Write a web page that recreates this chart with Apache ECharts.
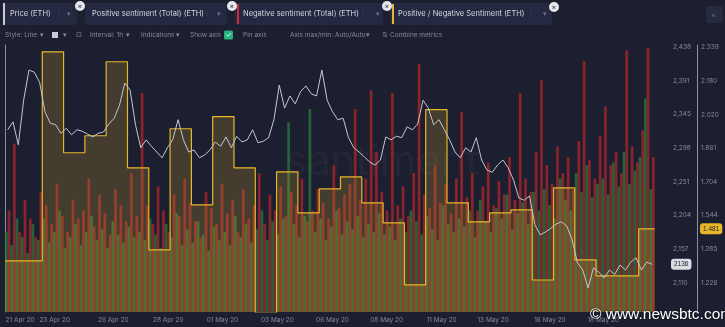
<!DOCTYPE html>
<html><head><meta charset="utf-8">
<script src="https://cdn.jsdelivr.net/npm/echarts@6/dist/echarts.min.js"></script>
<style>html,body{margin:0;padding:0;background:#1c1f30;}#c{width:725px;height:327px;}</style>
</head><body><div id="c"></div>
<script>
// ---- data (hours since chart origin on the x axis) ----
const hoursPerBar = 6;
const firstDayHour = 42;     // first daily boundary of the ratio series
const lastHour = 732;        // end of data
const xMaxHour = 747;

const xTickHours = [17, 56, 122, 184, 245, 307, 369, 430, 492, 550, 614, 674];
const xTickLabels = ['21 Apr 20','23 Apr 20','26 Apr 20','28 Apr 20','01 May 20','03 May 20','06 May 20','08 May 20','11 May 20','13 May 20','16 May 20','18 May 20'];

const priceTicks = [2110, 2157, 2204, 2251, 2298, 2345, 2391, 2438];
const ratioTicks = [1.226, 1.385, 1.544, 1.704, 1.861, 2.020, 2.180, 2.339];

const price = [2323,2334,2302,2364,2406,2403,2389,2348,2332,2330,2318,2325,2316,2323,2321,2317,2313,2318,2320,2331,
2339,2357,2388,2378,2330,2298,2309,2300,2292,2284,2298,2309,2337,2309,2292,2295,2284,2288,2295,2306,
2300,2313,2298,2314,2306,2309,2323,2305,2307,2312,2337,2385,2353,2370,2359,2376,2384,2373,2370,2406,
2364,2348,2337,2339,2312,2298,2292,2285,2278,2274,2281,2313,2309,2314,2312,2327,2323,2331,2364,2353,
2330,2337,2323,2309,2292,2284,2298,2292,2312,2281,2267,2264,2274,2281,2270,2253,2228,2225,2231,2191,
2177,2181,2186,2192,2195,2189,2170,2138,2128,2103,2131,2125,2117,2128,2122,2135,2128,2139,2145,2128,
2139,2136];

const negative = [38,63,30,42,35,28,45, 40,33,48,36,30, 42,35,38,50,32,44,37,29,46,40,34,52,36, 82,
40,33,47,38,30,44,36,50,41,34,28,45,39,33,48, 37,42,30,46,35,40,52,33,44,38,47,36, 45, 40,50,34, 38,
46,41,35,55,39,44,48, 76, 42,50, 83, 60, 45,38, 82, 40,47,36,52, 93, 44,39,55,41,48,37,50, 75,
43,52,38,47,56,40,49,44,58,42, 82, 50,45,60, 87, 55,48,62,52,58,46,64, 94, 57,50,66, 77, 55,60,52, 98,
62,56,68, 99, 58];

const positive = [30,25,35,28,22,33,27, 35,26,30,38,24, 28,33,25,30,36,27,31,24,34,29,26,32,28, 30,
27,35,29,24,33,28,37,25,31,26,34,29,23,32,27, 30,25,36,28,33,26,31,38,27,34,29,35, 71, 33,28,36, 76,
30,35,27,32,38,29,34, 31, 36,28, 33, 30, 37,29, 32, 27,35,30,38, 34, 29,36,31,27,40,33,30, 35,
32,38,28,42,34,30,39,35,44,31, 37, 41,33,45, 38, 46,40,35,50,42,38,52, 45, 55,43,48, 50, 44,56,47, 60,
48,53,58, 80, 46];

const ratio = [1.330,2.316,1.840,1.920,2.269,1.769,1.382,1.953,1.594,2.010,1.769,1.084,1.750,1.556,1.670,
1.726,1.604,1.509,1.217,2.043,1.604,1.514,1.556,1.571,1.240,1.674,1.335,1.259,1.259,1.481];

const lastPrice = 2136;
const lastRatio = 1.481;

// ---- build series data ----
const atBar = (arr, f) => arr.map((v, i) => [(i + f) * hoursPerBar, v]);
const ratioData = [[0, ratio[0]]];
for (let k = 1; k < ratio.length; k++) ratioData.push([firstDayHour + 24 * (k - 1), ratio[k]]);
ratioData.push([lastHour, ratio[ratio.length - 1]]);

const FONT = 'Inter, Roboto, sans-serif';
const GREY = '#858aa0';

const chart = echarts.init(document.getElementById('c'));

function txt(x, y, s, size, fill, extra) {
  return Object.assign({ type: 'text', x: x, y: y, silent: true,
    style: { text: s, fill: fill || GREY, font: (size || 6.5) + 'px ' + FONT, verticalAlign: 'middle' } }, extra || {});
}
function rect(x, y, w, h, fill, r) {
  return { type: 'rect', silent: true, shape: { x: x, y: y, width: w, height: h, r: r || 0 }, style: { fill: fill } };
}
function badge(x, y) {
  return [{ type: 'circle', silent: true, shape: { cx: x, cy: y, r: 5 }, style: { fill: '#e6e7ec' } },
          txt(x - 2.4, y, '×', 7, '#1c1f30')];
}

const graphic = [
  rect(3, 3, 74, 22, '#242941', 2), rect(3, 3, 2, 22, '#c9ccd6'),
  txt(10, 14, 'Price (ETH)', 7.5, '#d4d6e0'), txt(58, 14, '⁝', 7, '#4e536a'), txt(67, 14, '▾', 7, '#6b7088'),
  rect(85, 3, 142, 22, '#242941', 2),
  txt(92, 14, 'Positive sentiment (Total) (ETH)', 7.5, '#d4d6e0'), txt(207, 14, '⁝', 7, '#4e536a'), txt(217, 14, '▾', 7, '#6b7088'),
  rect(235, 3, 148, 22, '#242941', 2), rect(237, 4, 2, 20, '#d0283a'),
  txt(243, 14, 'Negative sentiment (Total) (ETH)', 7.5, '#d4d6e0'), txt(362, 14, '⁝', 7, '#4e536a'), txt(376, 14, '▾', 7, '#6b7088'),
  rect(390, 3, 162, 22, '#242941', 2), rect(392, 4, 2, 20, '#e7b62a'),
  txt(398, 14, 'Positive / Negative Sentiment (ETH)', 7.5, '#d4d6e0'), txt(530, 14, '⁝', 7, '#4e536a'), txt(543, 14, '▾', 7, '#6b7088'),
  ...badge(80, 6), ...badge(232, 6), ...badge(387, 6), ...badge(554, 7),
  rect(706, 6, 17, 17, '#262b40', 2), txt(711, 14.5, '×', 7, '#6b7088'),
  txt(5, 35, 'Style: Line', 6.5), txt(40, 35, '▾', 6.5),
  rect(52, 32, 6, 6, '#c9ccd6'), txt(63, 35, '▾', 6.5),
  txt(76, 35, '⊡', 7), txt(90, 35, 'Interval: 1h', 6.5), txt(126, 35, '▾', 6.5),
  txt(141, 35, 'Indications', 6.5), txt(176, 35, '▾', 6.5),
  txt(190, 35, 'Show axis', 6.5),
  rect(224, 30.5, 9, 9, '#27b37a', 1.5), txt(225.5, 35, '✓', 7, '#ffffff'),
  txt(243, 35, 'Pin axis', 6.5),
  txt(290, 35, 'Axis max/min: Auto/Auto', 6.5), txt(366, 35, '▾', 6.5),
  txt(382, 35, '⇅', 6.5), txt(390, 35, 'Combine metrics', 6.5),
  txt(285, 162, 'santiment', 42, 'rgba(255,255,255,0.035)'),
  txt(590, 315, '© www.newsbtc.com', 15.5, '#ffffff', { z: 100, style: { text: '© www.newsbtc.com', fill: '#ffffff', font: '15.5px "Liberation Sans", Arial, sans-serif', verticalAlign: 'middle', textShadowColor: 'rgba(0,0,0,0.8)', textShadowBlur: 2 } })
];

chart.setOption({
  animation: false,
  backgroundColor: '#1c1f30',
  grid: { left: 5, right: 57, top: 45, bottom: 15 },
  graphic: graphic,
  xAxis: {
    type: 'value', min: 0, max: xMaxHour,
    axisLine: { show: false }, axisTick: { show: false }, splitLine: { show: false },
    axisLabel: {
      customValues: xTickHours, color: GREY, fontSize: 6.5, fontFamily: FONT, margin: 5,
      formatter: (v) => { const i = xTickHours.indexOf(v); return i >= 0 ? xTickLabels[i] : ''; }
    }
  },
  yAxis: [
    { type: 'value', position: 'right', min: 2069.7, max: 2440.8,
      axisLine: { show: true, lineStyle: { color: '#8c90a2', width: 1 } }, axisTick: { show: false },
      splitLine: { show: false },
      axisLabel: { customValues: priceTicks, color: GREY, fontSize: 6.5, fontFamily: FONT, margin: 5 },
      axisPointer: { show: true, value: lastPrice, status: 'show', triggerTooltip: false,
        lineStyle: { opacity: 0 },
        label: { show: true, backgroundColor: '#dcdde3', color: '#1c1f30', fontSize: 6.5, padding: [2, 3], margin: 3,
                 formatter: (p) => String(Math.round(p.value)) } } },
    { type: 'value', position: 'right', offset: 29, min: 1.089, max: 2.348,
      axisLine: { show: true, lineStyle: { color: '#8c90a2', width: 1 } }, axisTick: { show: false },
      splitLine: { show: false },
      axisLabel: { customValues: ratioTicks, color: GREY, fontSize: 6.5, fontFamily: FONT, margin: 4,
                   formatter: (v) => v.toFixed(3) },
      axisPointer: { show: true, value: lastRatio, status: 'show', triggerTooltip: false,
        lineStyle: { opacity: 0 },
        label: { show: true, backgroundColor: '#e9b62a', color: '#1c1f30', fontSize: 6.5, padding: [2, 3], margin: 3,
                 formatter: (p) => Number(p.value).toFixed(3) } } },
    { type: 'value', min: 0, max: 100, show: false }
  ],
  series: [
    { name: 'Negative sentiment (Total) (ETH)', type: 'bar', yAxisIndex: 2, barWidth: 2.7, barGap: '-100%',
      data: atBar(negative, 0.75), itemStyle: { color: 'rgba(165,36,44,0.8)' }, z: 1, silent: true },
    { name: 'Positive sentiment (Total) (ETH)', type: 'bar', yAxisIndex: 2, barWidth: 2.7, barGap: '-100%',
      data: atBar(positive, 0.25), itemStyle: { color: 'rgba(42,118,58,0.78)' }, z: 1, silent: true },
    { name: 'Positive / Negative Sentiment (ETH)', type: 'line', yAxisIndex: 1, step: 'end', symbol: 'none',
      data: ratioData, lineStyle: { color: '#e8b628', width: 1.2 },
      areaStyle: { color: 'rgba(205,160,45,0.33)' }, z: 2, silent: true },
    { name: 'Price (ETH)', type: 'line', yAxisIndex: 0, symbol: 'none', data: atBar(price, 0.5),
      lineStyle: { color: '#c3c6d2', width: 1 }, z: 3, silent: true }
  ]
});
</script></body></html>
